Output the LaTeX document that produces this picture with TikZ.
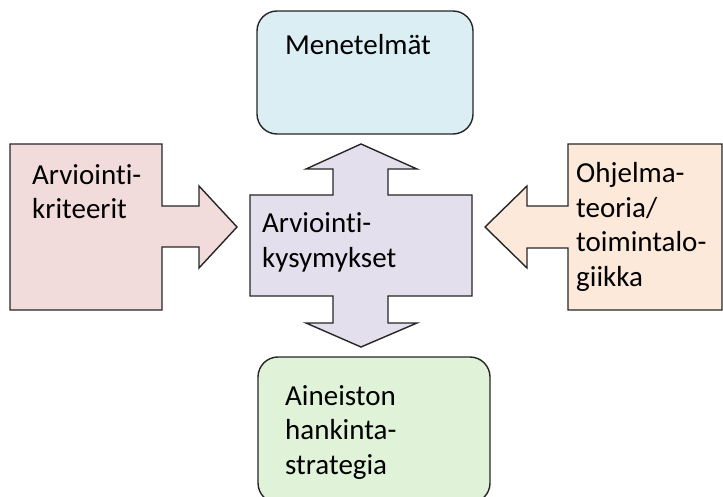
\documentclass[tikz,border=0pt]{standalone}
\usepackage{fontspec}
\setmainfont{Carlito}[Ligatures=NoCommon, Contextuals=NoAlternate]
\usetikzlibrary{positioning}

\definecolor{methodblue}{HTML}{DBEEF4}
\definecolor{critpink}{HTML}{F2DCDB}
\definecolor{questlilac}{HTML}{E4DFEC}
\definecolor{theoryorange}{HTML}{FDE9D9}
\definecolor{datagreen}{HTML}{E0F2D8}

\tikzstyle{outline} = [draw=black!85, line width=1.4pt, line join=miter]
\tikzstyle{roundbox} = [outline, rounded corners=20pt]
% base anchor = baseline of the last line
\tikzstyle{boxtext} = [inner sep=0pt, anchor=base west, align=left, font=\fontsize{29}{34.5}\selectfont]

\begin{document}
\begin{tikzpicture}[x=1pt, y=-1pt]
    \useasboundingbox (0,0) rectangle (723,497);
    \clip (0,0) rectangle (723,497);
    % Draw shapes
    \draw [roundbox, fill=methodblue] (257,11) rectangle (473,134);
    \draw [roundbox, fill=datagreen] (258,357) rectangle (490,503);
    \draw [outline, fill=critpink] (10,144) -- (162,144) -- (162,206) -- (199,206) -- (199,186)
        -- (237,227) -- (199,268) -- (199,247) -- (162,247) -- (162,310) -- (10,310) -- cycle;
    \draw [outline, fill=theoryorange] (722,144) -- (568,144) -- (568,206) -- (527,206) -- (527,186)
        -- (485,227) -- (527,268) -- (527,248) -- (568,248) -- (568,310) -- (722,310) -- cycle;
    \draw [outline, fill=questlilac] (250,195) -- (333,195) -- (333,169) -- (306,169) -- (361,144)
        -- (417,169) -- (388,169) -- (388,195) -- (472,195) -- (472,296) -- (388,296)
        -- (388,323) -- (417,323) -- (361,347) -- (306,323) -- (333,323) -- (333,296)
        -- (250,296) -- cycle;
    % Place nodes
    \node [boxtext] (methods) at (285,55) {Menetelmät};
    \node [boxtext] (criteria) at (32,219) {Arviointi-\\kriteerit};
    \node [boxtext] (questions) at (262,267) {Arviointi-\\kysymykset};
    \node [boxtext] (theory) at (576,286) {Ohjelma-\\teoria/\\toimintalo-\\giikka};
    \node [boxtext] (data) at (285,474) {Aineiston\\hankinta-\\strategia};
\end{tikzpicture}
\end{document}
